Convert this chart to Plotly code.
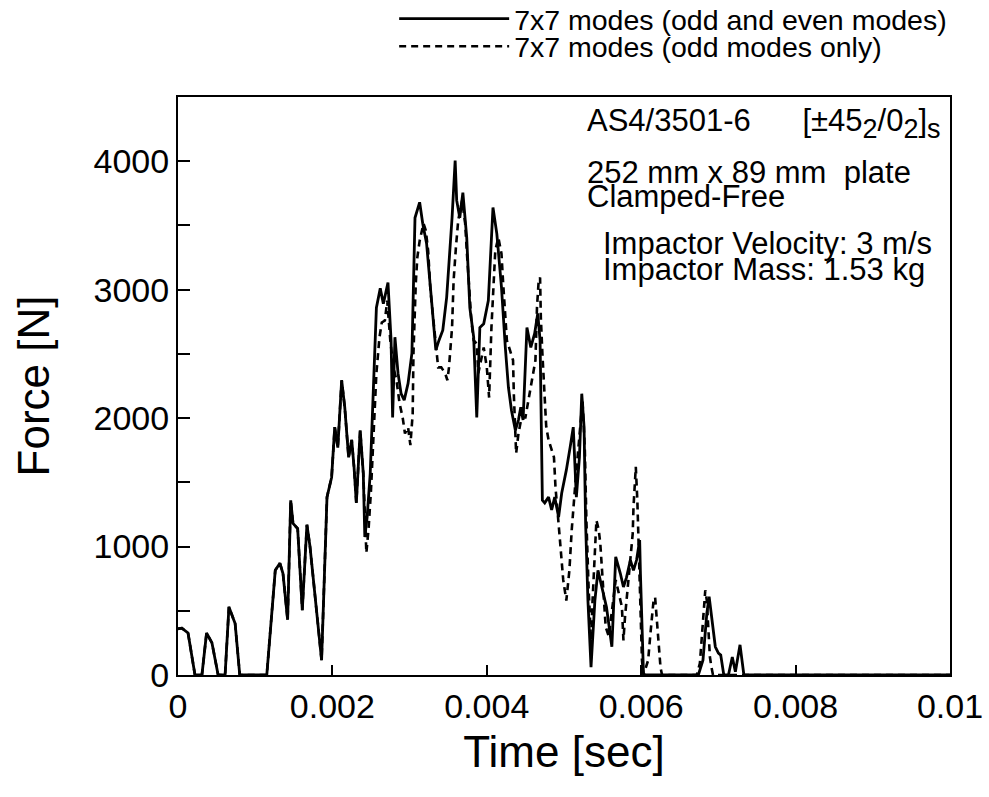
import plotly.graph_objects as go

# Solid: 7x7 modes (odd and even modes)
t_full = [0.0, 0.00005, 0.00013, 0.00022, 0.00031, 0.00037, 0.00044, 0.00052, 0.00061, 0.00066,
          0.00074, 0.00080, 0.00115, 0.00121, 0.00126, 0.00132, 0.00136, 0.00142, 0.00146, 0.00149,
          0.00155, 0.00161, 0.00167, 0.00171, 0.00175, 0.00186, 0.00193, 0.00199, 0.00203, 0.00207,
          0.00212, 0.00216, 0.00221, 0.00225, 0.00228, 0.00231, 0.00236, 0.00240, 0.00242, 0.00245,
          0.00249, 0.00253, 0.00257, 0.00262, 0.00266, 0.00272, 0.00276, 0.00278, 0.00281, 0.00285,
          0.00289, 0.00293, 0.00298, 0.00303, 0.00307, 0.00313, 0.00317, 0.00322, 0.00329, 0.00334,
          0.00338, 0.00343, 0.00348, 0.00355, 0.00359, 0.00361, 0.00365, 0.00369, 0.00374, 0.00378,
          0.00383, 0.00387, 0.00391, 0.00396, 0.00402, 0.00408, 0.00413, 0.00419, 0.00424, 0.00428,
          0.00432, 0.00437, 0.00441, 0.00444, 0.00447, 0.00452, 0.00457, 0.00462, 0.00466, 0.00469,
          0.00472, 0.00475, 0.00480, 0.00484, 0.00488, 0.00493, 0.00497, 0.00503, 0.00508, 0.00512,
          0.00516, 0.00520, 0.00523, 0.00526, 0.00528, 0.00531, 0.00535, 0.00540, 0.00544, 0.00547,
          0.00555, 0.00562, 0.00567, 0.00573, 0.00577, 0.00581, 0.00586, 0.00590, 0.00594, 0.00598,
          0.00599, 0.00603, 0.00674, 0.00680, 0.00685, 0.00688, 0.00691, 0.00696, 0.00700, 0.00703,
          0.00707, 0.00713, 0.00718, 0.00722, 0.00728, 0.00733, 0.01]
f_full = [360, 365, 327, 0, 0, 327, 250, 0, 0, 530,
          400, 0, 0, 430, 815, 870, 790, 430, 1360, 1180,
          1140, 505, 1170, 1000, 760, 115, 1385, 1540, 1930, 1770,
          2295, 2085, 1695, 1830, 1620, 1340, 1905, 1570, 1075, 1230,
          1570, 2215, 2860, 3010, 2890, 3055, 2605, 2005, 2630, 2350,
          2190, 2140, 2270, 2505, 3560, 3680, 3515, 3360, 2860, 2530,
          2605, 2685, 2940, 3560, 4005, 3695, 3560, 3755, 3405, 2860,
          2630, 2005, 2705, 2735, 2915, 3640, 3435, 3020, 2550, 2240,
          2060, 1905, 1985, 2085, 1985, 2705, 2550, 2660, 2815, 2605,
          1360, 1340, 1385, 1285, 1385, 1230, 1415, 1595, 1775, 1930,
          1385, 1695, 2190, 1930, 1180, 580, 60, 580, 815, 740,
          530, 220, 920, 790, 685, 760, 895, 815, 895, 1050,
          790, 0, 0, 115, 480, 610, 450, 220, 170, 155,
          0, 0, 140, 25, 235, 0, 0]

# Dashed: 7x7 modes (odd modes only)
t_odd = [0.0, 0.00005, 0.00013, 0.00022, 0.00031, 0.00037, 0.00044, 0.00052, 0.00061, 0.00066,
         0.00074, 0.00080, 0.00115, 0.00121, 0.00126, 0.00132, 0.00136, 0.00142, 0.00146, 0.00149,
         0.00155, 0.00161, 0.00167, 0.00171, 0.00175, 0.00186, 0.00193, 0.00199, 0.00203, 0.00207,
         0.00212, 0.00216, 0.00221, 0.00225, 0.00228, 0.00231, 0.00236, 0.00240, 0.00244, 0.00247,
         0.00250, 0.00253, 0.00257, 0.00261, 0.00264, 0.00268, 0.00271, 0.00275, 0.00279, 0.00283,
         0.00287, 0.00291, 0.00294, 0.00298, 0.00301, 0.00304, 0.00305, 0.00308, 0.00310, 0.00313,
         0.00318, 0.00321, 0.00324, 0.00327, 0.00331, 0.00335, 0.00337, 0.00341, 0.00346, 0.00349,
         0.00351, 0.00355, 0.00357, 0.00360, 0.00363, 0.00368, 0.00372, 0.00374, 0.00377, 0.00380,
         0.00383, 0.00387, 0.00389, 0.00393, 0.00396, 0.00400, 0.00402, 0.00403, 0.00406, 0.00408,
         0.00411, 0.00415, 0.00419, 0.00421, 0.00424, 0.00426, 0.00430, 0.00434, 0.00435, 0.00437,
         0.00438, 0.00441, 0.00445, 0.00450, 0.00454, 0.00458, 0.00463, 0.00465, 0.00467, 0.00469,
         0.00470, 0.00472, 0.00474, 0.00477, 0.00480, 0.00484, 0.00487, 0.00489, 0.00492, 0.00494,
         0.00499, 0.00503, 0.00507, 0.00510, 0.00515, 0.00521, 0.00524, 0.00527, 0.00529, 0.00532,
         0.00535, 0.00537, 0.00540, 0.00542, 0.00545, 0.00547, 0.00549, 0.00552, 0.00554, 0.00558,
         0.00567, 0.00575, 0.00577, 0.00579, 0.00583, 0.00586, 0.00589, 0.00590, 0.00592, 0.00593,
         0.00595, 0.00596, 0.00597, 0.00601, 0.00603, 0.00609, 0.00612, 0.00616, 0.00618, 0.00620,
         0.00622, 0.00625, 0.00627, 0.00672, 0.00676, 0.00678, 0.00680, 0.00683, 0.00685, 0.00687,
         0.00689, 0.00691, 0.00693, 0.01]
f_odd = [360, 365, 327, 0, 0, 327, 250, 0, 0, 530,
         400, 0, 0, 430, 815, 870, 790, 430, 1360, 1180,
         1140, 505, 1170, 1000, 760, 115, 1385, 1540, 1930, 1770,
         2295, 2085, 1695, 1830, 1620, 1340, 1905, 1570, 950, 1150,
         1440, 1830, 2350, 2630, 2745, 2760, 2915, 2605, 2395, 2295,
         2115, 2005, 1880, 1930, 1790, 2035, 2505, 3050, 3250, 3380,
         3515, 3460, 3305, 2995, 2735, 2505, 2395, 2395, 2350, 2295,
         2395, 2705, 3070, 3330, 3540, 3695, 3515, 3305, 2995, 2760,
         2605, 2580, 2350, 2475, 2550, 2395, 2240, 2160, 2705, 2995,
         3305, 3405, 3280, 3070, 2760, 2605, 2530, 2450, 2190, 1830,
         1725, 1880, 2005, 2005, 2140, 2295, 2450, 2860, 3050, 3095,
         2785, 2505, 2270, 1930, 1830, 1750, 1695, 1460, 1205, 1105,
         740, 580, 815, 1130, 1515, 1905, 2140, 1750, 1205, 660,
         270, 580, 895, 1205, 1130, 1025, 840, 530, 375, 300,
         740, 530, 270, 450, 715, 895, 1100, 1305, 1490, 1620,
         1360, 1125, 950, 115, 0, 115, 325, 580, 605, 450,
         270, 60, 0, 0, 90, 250, 480, 660, 580, 375,
         140, 60, 0, 0]

x_tickvals = [0, 0.002, 0.004, 0.006, 0.008, 0.01]
x_ticktext = ["0", "0.002", "0.004", "0.006", "0.008", "0.01"]
y_tickvals = [0, 1000, 2000, 3000, 4000]
y_ticktext = ["0", "1000", "2000", "3000", "4000"]

FONT = "Arial, Liberation Sans, Helvetica, sans-serif"

fig = go.Figure()
fig.add_trace(go.Scatter(x=t_full, y=f_full, mode="lines",
                         name="7x7 modes (odd and even modes)", legend="legend",
                         line=dict(color="black", width=2.8)))
fig.add_trace(go.Scatter(x=t_odd, y=f_odd, mode="lines",
                         name="7x7 modes (odd modes only)", legend="legend2",
                         line=dict(color="black", width=2.6, dash="7px,5px")))

SUB = "<sub><span style='font-size:27px'>{}</span></sub>"
notes = [
    (0.527, 0.955, "AS4/3501-6" + "\u00a0" * 6 + "[±45" + SUB.format("2") + "/0" + SUB.format("2")
     + "]" + SUB.format("s")),
    (0.527, 0.870, "252 mm x 89 mm\u00a0\u00a0plate"),
    (0.527, 0.827, "Clamped-Free"),
    (0.548, 0.747, "Impactor Velocity: 3 m/s"),
    (0.548, 0.7007, "Impactor Mass: 1.53 kg"),
]
for x, y, txt in notes:
    fig.add_annotation(x=x, y=y, xref="paper", yref="paper", text=txt, showarrow=False,
                       xanchor="left", yanchor="middle",
                       font=dict(family=FONT, size=31, color="black"))

axis_common = dict(showline=True, linecolor="black", linewidth=2, mirror=True,
                   ticks="inside", tickcolor="black", tickwidth=2,
                   showgrid=False, zeroline=False)

legend_common = dict(x=0.28, xanchor="left", yanchor="top",
                     font=dict(family=FONT, size=28.5, color="black"),
                     itemwidth=110, bgcolor="rgba(0,0,0,0)")

fig.update_layout(
    width=989, height=797,
    margin=dict(l=178, r=39, t=97, b=122, autoexpand=False),
    paper_bgcolor="white", plot_bgcolor="white",
    font=dict(family=FONT, color="black"),
    showlegend=True,
    legend=dict(y=1.179, **legend_common),
    legend2=dict(y=1.131, **legend_common),
    xaxis=dict(range=[0, 0.01], tickvals=x_tickvals, ticktext=x_ticktext,
               ticklen=10, tickfont=dict(family=FONT, size=34),
               ticklabelstandoff=0,
               title=dict(text="Time [sec]", font=dict(family=FONT, size=44), standoff=12),
               **axis_common),
    yaxis=dict(range=[0, 4500], tickvals=y_tickvals, ticktext=y_ticktext,
               ticklen=12, tickfont=dict(family=FONT, size=34),
               ticklabelstandoff=0,
               minor=dict(dtick=500, ticks="inside", ticklen=12, tickwidth=2, tickcolor="black"),
               title=dict(text="Force [N]", font=dict(family=FONT, size=44), standoff=30),
               **axis_common),
)

fig.write_html("out.html")
